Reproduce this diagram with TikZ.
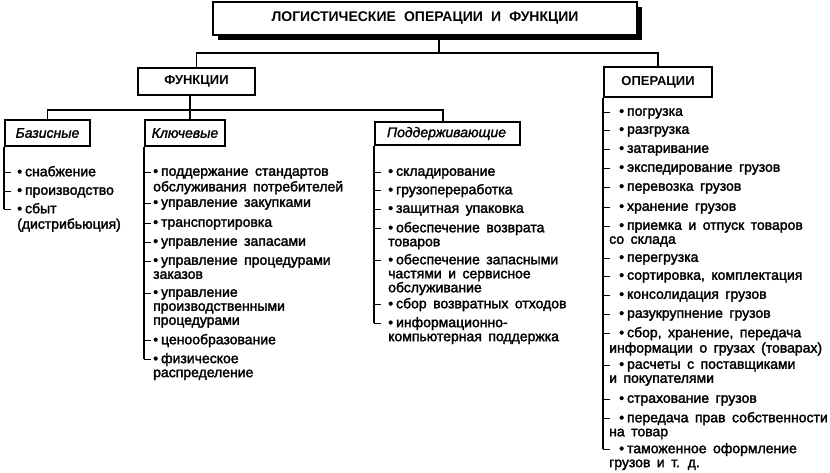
\documentclass[tikz,border=0pt]{standalone}
\usepackage{fontspec}
\newfontfamily\lf{Liberation Sans}[FakeBold=2, WordSpace=1.67]
\newfontfamily\lfi{Liberation Sans Italic}[FakeBold=1.5]
\newfontfamily\hf{Liberation Sans Bold}[WordSpace=2.1]
\usetikzlibrary{shadows}
\newcommand\bu{•\hspace{3pt}}
\newcommand\itm[5]{%
  \node[item] (#1) at (#3,#4-6.2) {\strut #5};
  \coordinate (#1t) at ([yshift=-6.2pt]#1.north west);
  \draw[tick] (#1t -| #2.south west) -- ++(7,0);
}
\begin{document}
\begin{tikzpicture}[x=1pt,y=-1pt,
  every node/.style={font=\lf\fontsize{14}{14}\selectfont, inner sep=0pt},
  box/.style={draw, line width=2pt, fill=white},
  hdr/.style={font=\hf\fontsize{13}{14}\selectfont},
  lbl/.style={font=\lfi\fontsize{14}{14}\selectfont},
  conn/.style={line width=1.8pt},
  vline/.style={line width=1.4pt},
  tick/.style={line width=1pt},
  item/.style={anchor=north west, align=left},
]
\useasboundingbox (0,0) rectangle (830,472);

\node[box, font=\hf\fontsize{14}{14}\selectfont, line width=1.5pt,
  minimum width=424pt, minimum height=33pt,
  general shadow={shadow xshift=5pt, shadow yshift=-5pt, fill=black}]
  (title) at (425,18.5) {ЛОГИСТИЧЕСКИЕ ОПЕРАЦИИ И ФУНКЦИИ};

\node[box, hdr, line width=2.5pt, minimum width=117pt, minimum height=27pt] (fun) at (196.5,81.5) {ФУНКЦИИ};
\node[box, hdr, line width=1.8pt, minimum width=108pt, minimum height=30pt] (op) at (658,82) {ОПЕРАЦИИ};
\node[box, lbl, minimum width=85pt, minimum height=26pt] (bas) at (47.5,133) {Базисные};
\node[box, lbl, minimum width=80pt, minimum height=26pt] (klu) at (185,133) {Ключевые};
\node[box, lbl, minimum width=145pt, minimum height=23pt, text width=121pt, align=left] (pod) at (447.5,133.5) {Поддерживающие};

\coordinate (j1) at (439,53);
\coordinate (j2) at (190,110);
\coordinate (j3) at (443,110);
\draw[conn] (title.south -| j1) -- (j1);
\draw[conn] (fun.north) |- (j1) -| (op.north);
\draw[conn] (fun.south -| j2) -- (klu.north -| j2);
\draw[conn] (bas.north) |- (j2) -- (j3) -- (j3 |- pod.north);

% Базисные
\itm{b1}{bas}{17}{172}{\bu снабжение}
\itm{b2}{bas}{17}{191}{\bu производство}
\itm{b3}{bas}{17}{209}{\bu сбыт\\(дистрибьюция)}
\draw[vline] (bas.south west) -- (b3t -| bas.south west);

% Ключевые
\itm{k1}{klu}{153}{172}{\bu поддержание стандартов\\обслуживания потребителей}
\itm{k2}{klu}{153}{203}{\bu управление закупками}
\itm{k3}{klu}{153}{223}{\bu транспортировка}
\itm{k4}{klu}{153}{242}{\bu управление запасами}
\itm{k5}{klu}{153}{261}{\bu управление процедурами\\заказов}
\itm{k6}{klu}{153}{293}{\bu управление\\производственными\\процедурами}
\itm{k7}{klu}{153}{340}{\bu ценообразование}
\itm{k8}{klu}{153}{359}{\bu физическое\\распределение}
\draw[vline] (klu.south west) -- (k8t -| klu.south west);

% Поддерживающие
\itm{p1}{pod}{388}{172}{\bu складирование}
\itm{p2}{pod}{388}{190}{\bu грузопереработка}
\itm{p3}{pod}{388}{209}{\bu защитная упаковка}
\itm{p4}{pod}{388}{228}{\bu обеспечение возврата\\товаров}
\itm{p5}{pod}{388}{260}{\bu обеспечение запасными\\частями и сервисное\\обслуживание}
\itm{p6}{pod}{388}{304}{\bu сбор возвратных отходов}
\itm{p7}{pod}{388}{323}{\bu информационно-\\компьютерная поддержка}
\draw[vline] (pod.south west) -- (p7t -| pod.south west);

% Операции
\itm{o1}{op}{609}{112}{\hspace*{10pt}\bu погрузка}
\itm{o2}{op}{609}{130}{\hspace*{10pt}\bu разгрузка}
\itm{o3}{op}{609}{149}{\hspace*{10pt}\bu затаривание}
\itm{o4}{op}{609}{168}{\hspace*{10pt}\bu экспедирование грузов}
\itm{o5}{op}{609}{187}{\hspace*{10pt}\bu перевозка грузов}
\itm{o6}{op}{609}{207}{\hspace*{10pt}\bu хранение грузов}
\itm{o7}{op}{609}{226}{\hspace*{10pt}\bu приемка и отпуск товаров\\со склада}
\itm{o8}{op}{609}{258}{\hspace*{10pt}\bu перегрузка}
\itm{o9}{op}{609}{276}{\hspace*{10pt}\bu сортировка, комплектация}
\itm{o10}{op}{609}{295}{\hspace*{10pt}\bu консолидация грузов}
\itm{o11}{op}{609}{314}{\hspace*{10pt}\bu разукрупнение грузов}
\itm{o12}{op}{609}{333}{\hspace*{10pt}\bu сбор, хранение, передача\\информации о грузах (товарах)}
\itm{o13}{op}{609}{365}{\hspace*{10pt}\bu расчеты с поставщиками\\и покупателями}
\itm{o14}{op}{609}{399}{\hspace*{10pt}\bu страхование грузов}
\itm{o15}{op}{609}{418}{\hspace*{10pt}\bu передача прав собственности\\на товар}
\itm{o16}{op}{609}{449}{\hspace*{10pt}\bu таможенное оформление\\грузов и т. д.}
\draw[vline] (op.south west) -- (o16t -| op.south west);
\end{tikzpicture}
\end{document}
